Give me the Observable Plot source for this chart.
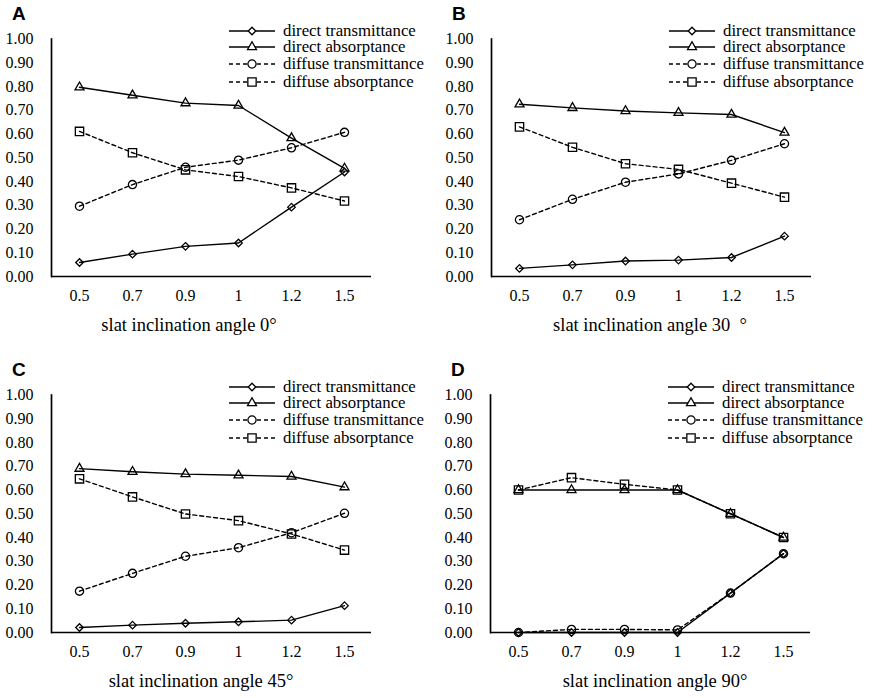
<!DOCTYPE html>
<html><head><meta charset="utf-8">
<script src="https://cdn.jsdelivr.net/npm/d3@7"></script>
<script src="https://cdn.jsdelivr.net/npm/@observablehq/plot@0.6"></script>
<style>
body{margin:0;background:#fff;}
#root{position:relative;width:872px;height:698px;overflow:hidden;font-family:"Liberation Serif","Times New Roman",serif;color:#000;}
.panel{position:absolute;width:436px;height:349px;}
.panel svg.plot{position:absolute;left:0;top:0;}
.letter{position:absolute;font-family:"Liberation Sans",Arial,sans-serif;font-weight:bold;font-size:19px;line-height:1;}
.xtitle{position:absolute;font-size:18.5px;white-space:pre;transform:translateX(-50%);line-height:1;}
.legend{position:absolute;}
</style></head><body><div id="root"></div>
<script>
// ---- data ----
const categories = ["0.5", "0.7", "0.9", "1", "1.2", "1.5"];
const seriesNames = ["direct transmittance", "direct absorptance", "diffuse transmittance", "diffuse absorptance"];
const panelLetters = ["A", "B", "C", "D"];
const panelTitles = ["slat inclination angle 0°", "slat inclination angle 30  °", "slat inclination angle 45°", "slat inclination angle 90°"];
const yTicks = [0.0, 0.1, 0.2, 0.3, 0.4, 0.5, 0.6, 0.7, 0.8, 0.9, 1.0];

// panel A: 0°
const directTransA = [0.059, 0.094, 0.127, 0.141, 0.292, 0.440];
const directAbsA   = [0.797, 0.763, 0.730, 0.720, 0.583, 0.455];
const diffuseTransA = [0.296, 0.387, 0.460, 0.490, 0.542, 0.607];
const diffuseAbsA  = [0.611, 0.521, 0.449, 0.421, 0.373, 0.318];
// panel B: 30°
const directTransB = [0.034, 0.049, 0.065, 0.069, 0.080, 0.170];
const directAbsB   = [0.725, 0.710, 0.697, 0.689, 0.682, 0.606];
const diffuseTransB = [0.239, 0.325, 0.397, 0.432, 0.489, 0.559];
const diffuseAbsB  = [0.630, 0.544, 0.475, 0.451, 0.393, 0.334];
// panel C: 45°
const directTransC = [0.021, 0.031, 0.039, 0.045, 0.052, 0.113];
const directAbsC   = [0.690, 0.677, 0.667, 0.662, 0.657, 0.612];
const diffuseTransC = [0.174, 0.249, 0.321, 0.357, 0.420, 0.502];
const diffuseAbsC  = [0.647, 0.571, 0.499, 0.471, 0.415, 0.347];
// panel D: 90°
const directTransD = [0.000, 0.000, 0.000, 0.000, 0.166, 0.332];
const directAbsD   = [0.600, 0.600, 0.600, 0.600, 0.500, 0.400];
const diffuseTransD = [0.000, 0.013, 0.013, 0.011, 0.166, 0.332];
const diffuseAbsD  = [0.600, 0.652, 0.624, 0.600, 0.500, 0.400];

const panelSeries = [
  [directTransA, directAbsA, diffuseTransA, diffuseAbsA],
  [directTransB, directAbsB, diffuseTransB, diffuseAbsB],
  [directTransC, directAbsC, diffuseTransC, diffuseAbsC],
  [directTransD, directAbsD, diffuseTransD, diffuseAbsD]
];

// ---- styles / layout ----
const seriesStyle = [
  {symbol: "diamond2", d3symbol: d3.symbolDiamond2, r: 3.4, dash: null},
  {symbol: "triangle2", d3symbol: d3.symbolTriangle2, r: 4.3, dash: null},
  {symbol: "circle", d3symbol: d3.symbolCircle, r: 4.1, dash: "4,3"},
  {symbol: "square2", d3symbol: d3.symbolSquare2, r: 5.3, dash: "4,3"}
];
const panelLayout = [
  {left: 0, top: 0, titleX: 189},
  {left: 440, top: 0, titleX: 210},
  {left: 0, top: 356, titleX: 201},
  {left: 439, top: 356, titleX: 216}
];

const root = document.getElementById("root");

panelLetters.forEach((letter, p) => {
  const lay = panelLayout[p];
  const div = document.createElement("div");
  div.className = "panel";
  div.style.left = lay.left + "px";
  div.style.top = lay.top + "px";
  root.appendChild(div);

  const rows = [];
  panelSeries[p].forEach((vals, s) => {
    vals.forEach((v, i) => rows.push({x: categories[i], value: v, series: seriesNames[s]}));
  });

  const marks = [];
  seriesNames.forEach((name, s) => {
    const st = seriesStyle[s];
    const sub = rows.filter(d => d.series === name);
    marks.push(Plot.line(sub, {x: "x", y: "value", stroke: "black", strokeWidth: 1.4, strokeDasharray: st.dash}));
  });
  seriesNames.forEach((name, s) => {
    const st = seriesStyle[s];
    const sub = rows.filter(d => d.series === name);
    marks.push(Plot.dot(sub, {x: "x", y: "value", symbol: () => st.symbol, r: st.r, stroke: "black", strokeWidth: 1.3, fill: "none"}));
  });

  const chart = Plot.plot({
    width: 436,
    height: 310,
    marginLeft: 51,
    marginRight: 65,
    marginTop: 38.5,
    marginBottom: 34,
    style: {fontFamily: "'Liberation Serif', 'Times New Roman', serif", fontSize: "16px", color: "black", background: "white"},
    x: {type: "point", domain: categories, padding: 0.5, label: null},
    y: {domain: [0, 1], label: null},
    symbol: {type: "identity"},
    marks: [
      Plot.axisY({ticks: yTicks, tickFormat: d3.format(".2f"), tickSize: 0, tickPadding: 18, label: null, fontSize: 16}),
      Plot.axisX({tickSize: 0, tickPadding: 13, label: null, fontSize: 16}),
      ...marks,
      Plot.ruleY([0], {stroke: "black", strokeWidth: 1.7}),
      Plot.frame({anchor: "left", stroke: "black", strokeWidth: 1.7})
    ]
  });
  chart.classList.add("plot");
  div.appendChild(chart);

  const l = document.createElement("div");
  l.className = "letter";
  l.textContent = letter;
  l.style.left = "12px";
  l.style.top = "4px";
  div.appendChild(l);

  const t = document.createElement("div");
  t.className = "xtitle";
  t.textContent = panelTitles[p];
  t.style.left = lay.titleX + "px";
  t.style.top = "316px";
  div.appendChild(t);

  // legend
  const rowY = [11, 27, 44, 62];
  const lg = d3.create("svg").attr("class", "legend").attr("width", 215).attr("height", 75)
    .style("left", "225px").style("top", "20px");
  seriesNames.forEach((name, s) => {
    const st = seriesStyle[s];
    const g = lg.append("g").attr("transform", `translate(0,${rowY[s]})`);
    g.append("line").attr("x1", 4).attr("x2", 50).attr("y1", 0).attr("y2", 0)
      .attr("stroke", "black").attr("stroke-width", 1.4).attr("stroke-dasharray", st.dash);
    g.append("path").attr("transform", "translate(27,0)")
      .attr("d", d3.symbol(st.d3symbol, Math.PI * st.r * st.r)())
      .attr("fill", "white").attr("stroke", "black").attr("stroke-width", 1.3);
    g.append("text").attr("x", 58).attr("y", 0).attr("dy", "0.32em")
      .attr("font-family", "'Liberation Serif', 'Times New Roman', serif").attr("font-size", 16.8)
      .text(name);
  });
  div.appendChild(lg.node());
});
</script>
</body></html>
